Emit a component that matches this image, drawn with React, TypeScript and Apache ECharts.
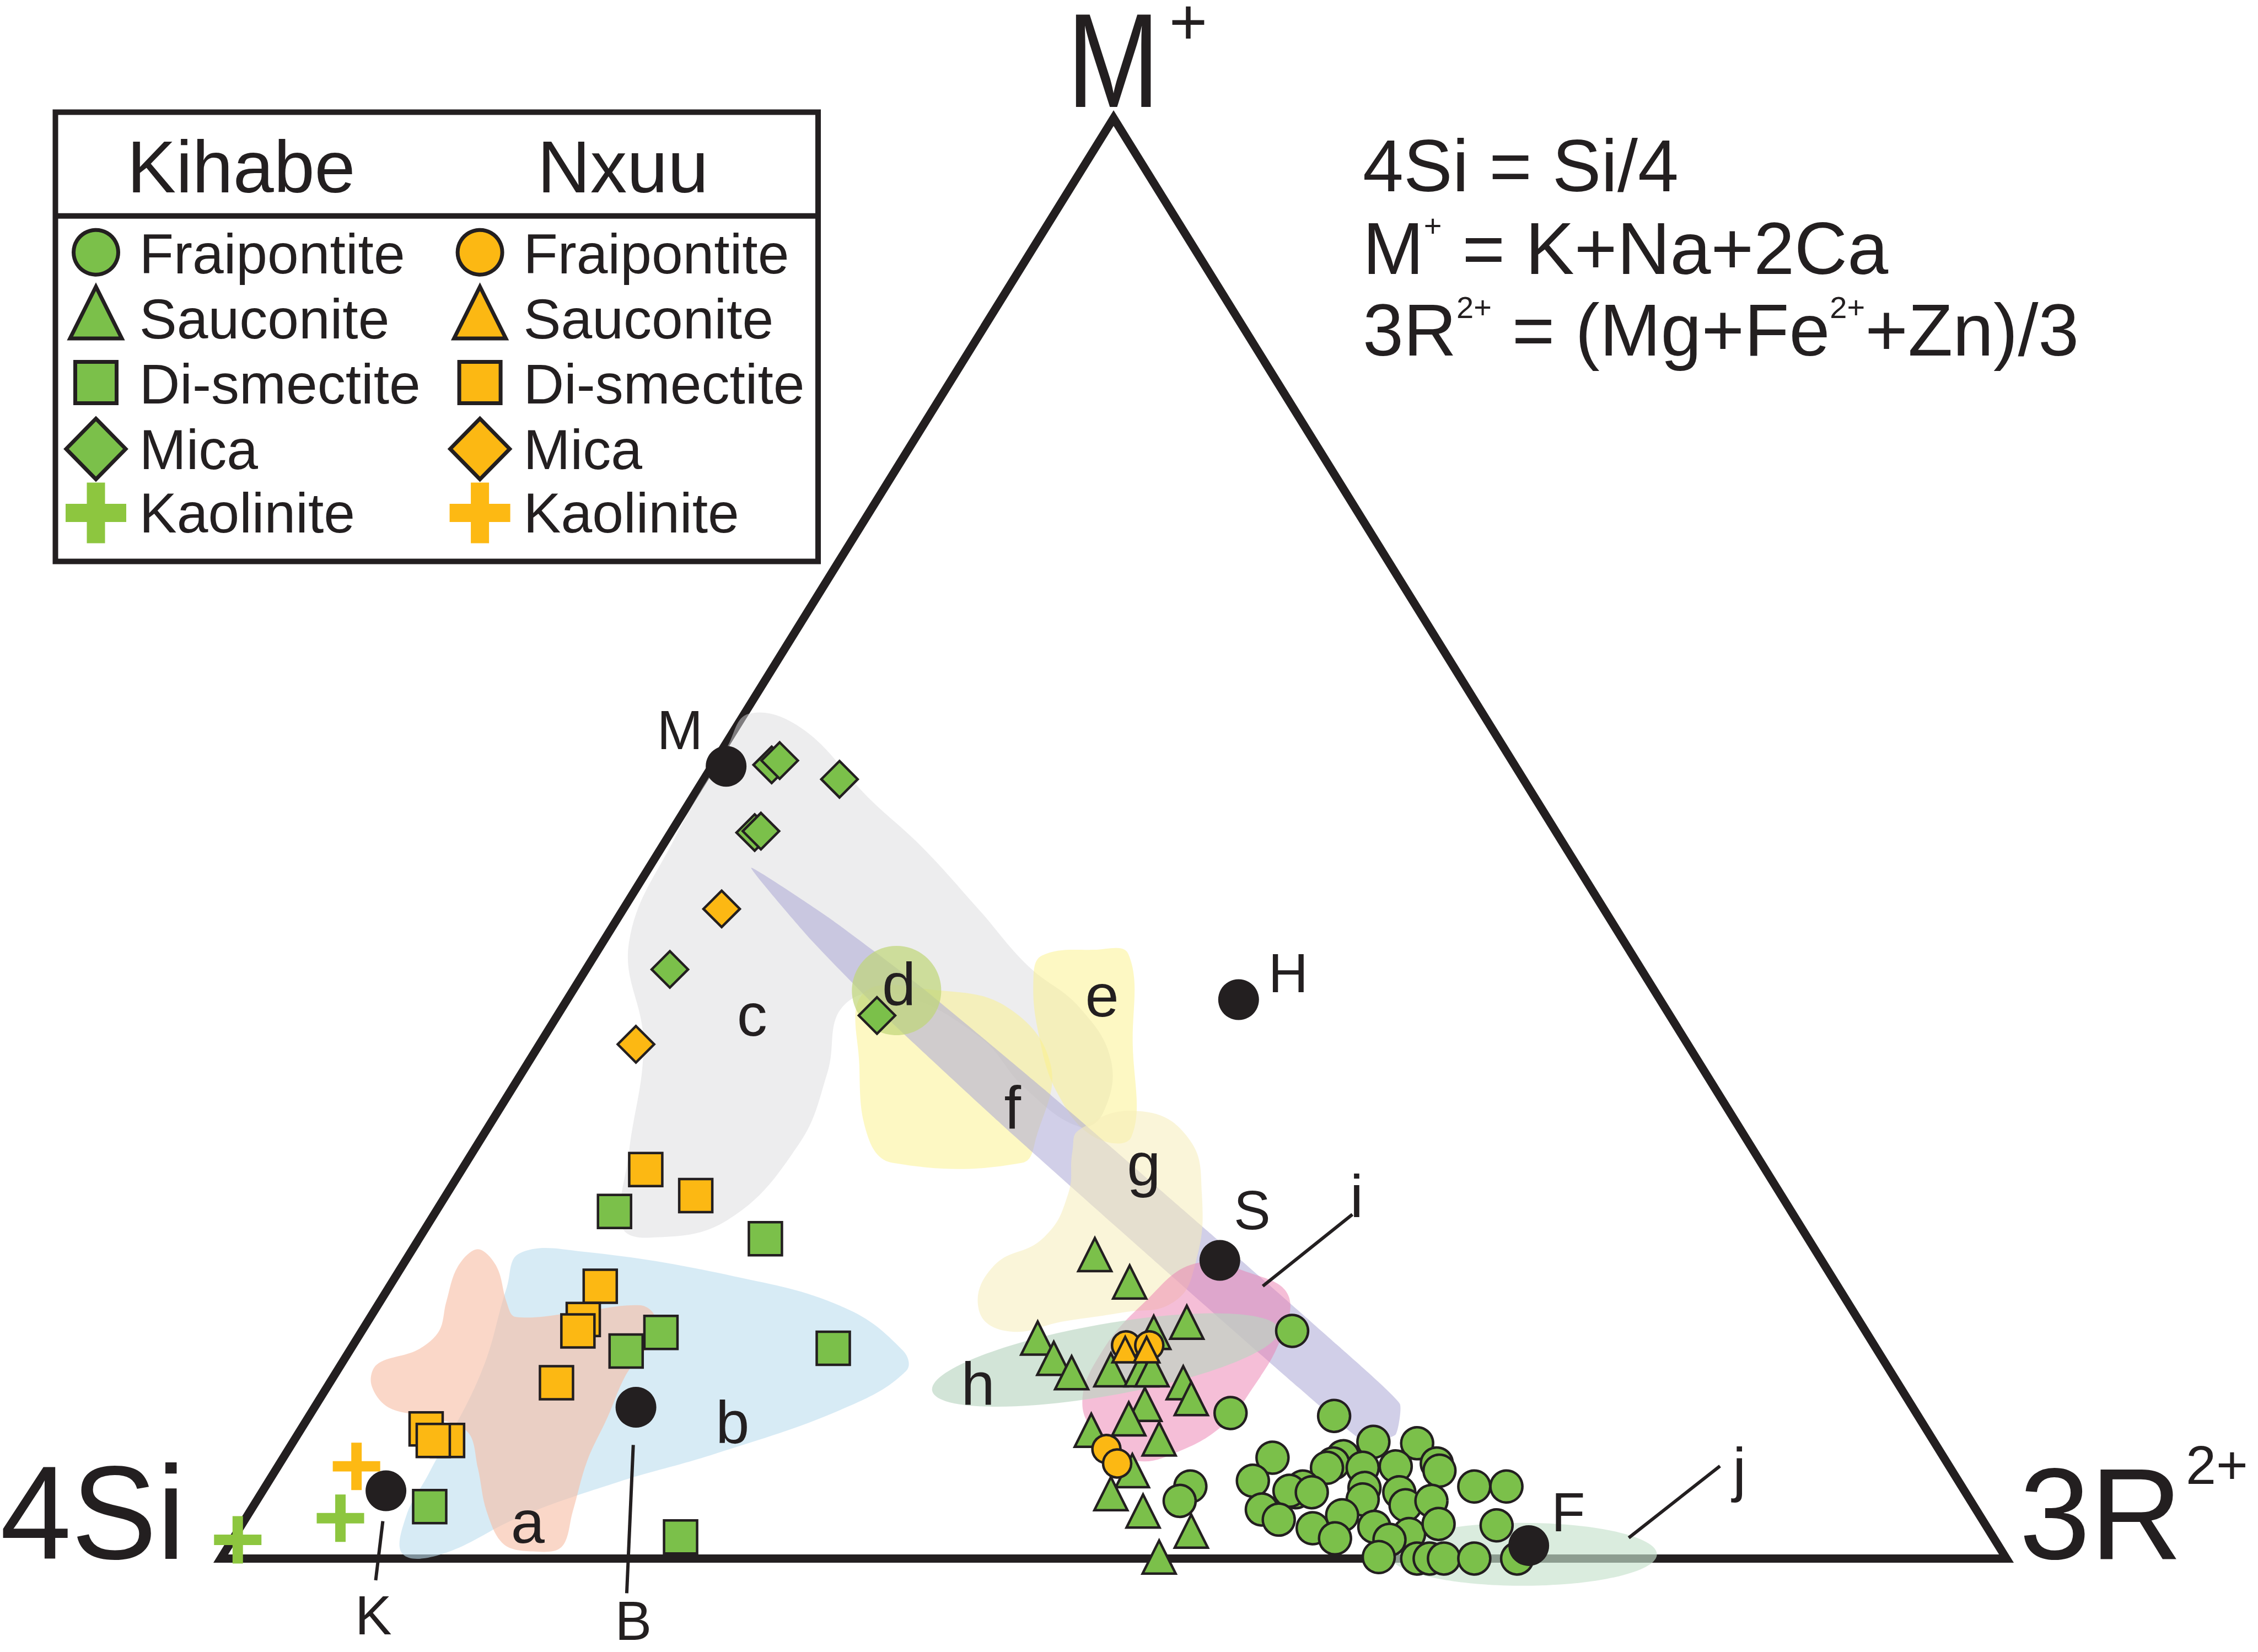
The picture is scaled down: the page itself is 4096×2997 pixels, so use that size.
import React, { useEffect, useRef } from "react";
import * as echarts from "echarts";

// Ternary positions: [M+ %, 3R2+ %]  (4Si = 100 - M+ - 3R2+)
type TP = [number, number];

const kihabeFraipontite: TP[] = [
  [10.1, 51.5], [5.0, 51.8], [4.0, 51.7], [15.8, 52.1], [9.9, 57.4], [8.1, 60.5],
  [8.0, 63.0], [7.0, 55.4], [5.4, 55.1], [7.1, 59.3], [6.6, 59.0], [6.3, 58.8],
  [6.4, 62.6], [6.6, 64.8], [6.1, 65.2], [6.3, 60.8], [4.6, 57.9], [5.0, 58.1],
  [4.7, 57.5], [4.9, 61.6], [4.6, 63.7], [4.1, 61.9], [3.7, 64.5], [4.0, 65.8],
  [5.0, 67.7], [5.0, 69.5], [3.4, 56.6], [2.7, 57.9], [2.1, 60.1], [3.0, 61.3],
  [2.2, 63.5], [1.4, 61.7], [1.7, 65.7], [1.3, 64.8], [2.4, 67.0], [2.3, 70.3],
  [0.1, 64.8], [0.0, 67.0], [0.0, 67.7], [0.0, 68.5], [0.0, 70.2], [0.0, 72.6],
  [4.6, 58.8],
];
const kihabeSauconite: TP[] = [
  [21.1, 38.4], [19.2, 41.3], [15.3, 38.1], [13.9, 39.7], [12.9, 41.2], [13.1, 43.3],
  [15.7, 44.4], [16.4, 45.9], [13.1, 45.0], [13.1, 45.6], [12.2, 47.8], [11.1, 48.8],
  [10.7, 46.4], [9.7, 46.0], [8.9, 44.3], [8.3, 48.4], [6.1, 48.0], [4.5, 47.6],
  [3.3, 50.0], [1.9, 53.4], [0.1, 52.5],
];
const kihabeDiSmectite: TP[] = [
  [24.1, 10.0], [22.2, 19.4], [15.7, 16.8], [14.4, 15.5], [14.6, 27.0], [3.6, 9.9], [1.5, 25.0],
];
const kihabeMica: TP[] = [
  [55.1, 3.3], [55.4, 3.6], [54.1, 7.6], [50.4, 4.7], [50.5, 5.0], [40.9, 4.7], [37.7, 17.9],
];
const kihabeKaolinite: TP[] = [[2.8, 5.3], [1.3, 0.3]];

const nxuuFraipontite: TP[] = [[14.8, 43.3], [14.8, 44.6], [7.6, 45.8], [6.6, 46.9]];
const nxuuSauconite: TP[] = [[14.5, 43.4], [14.5, 44.6]];
const nxuuDiSmectite: TP[] = [
  [27.0, 10.3], [25.2, 14.0], [18.9, 11.8], [16.6, 12.0], [15.8, 12.1], [12.2, 12.7],
  [9.0, 7.0], [8.2, 8.6], [8.2, 7.8],
];
const nxuuMica: TP[] = [[45.1, 5.5], [35.7, 5.4]];
const nxuuKaolinite: TP[] = [[6.4, 4.4]];

// reference compositions (black dots)
const referenceNames = ["M", "H", "S", "F", "K", "B"];
const referencePoints: TP[] = [[55.0, 0.8], [38.8, 37.6], [20.7, 45.6], [0.9, 72.8], [4.7, 6.9], [10.5, 18.0]];
const referenceLabelPos: TP[] = [[57.55, -3.06], [40.66, 39.45], [24.2, 45.66], [3.22, 73.85], [-3.91, 10.5], [-4.3, 25.25]];

// field letters
const fieldLetters = ["a", "b", "c", "d", "e", "f", "g", "h", "i", "j"];
const fieldLetterPos: TP[] = [
  [2.55, 15.92], [9.5, 23.91], [37.77, 10.87], [39.91, 18.02], [39.12, 29.79],
  [31.33, 28.68], [27.41, 37.99], [12.18, 36.32], [25.17, 51.03], [6.25, 81.92],
];
// leader lines (K, B, i, j)
const leaderLines: TP[][] = [
  [[2.59, 7.78], [-1.51, 9.43]],
  [[7.88, 19.16], [-2.41, 23.94]],
  [[23.89, 51.43], [18.91, 48.9]],
  [[6.42, 80.75], [1.44, 78.13]],
];

// composition fields (outlines in ternary coordinates)
const fieldC: TP[] = [
  [58.64, 0.23], [57.64, 3.71], [52.85, 9.82], [49.45, 14.5], [45.05, 19.93], [41.16, 24.61],
  [38.26, 28.96], [34.56, 32.58], [30.87, 33.95], [29.97, 33.11], [32.66, 28.7], [36.26, 24.32],
  [39.26, 17.98], [38.26, 15.66], [33.76, 17.1], [28.77, 17.99], [23.47, 16.61], [22.27, 12.78],
  [23.07, 10.93], [28.27, 8.73], [35.76, 5.79], [42.76, 1.48], [50.25, 0.4], [56.24, 0.2],
];
const fieldB: TP[] = [
  [21.19, 6.14], [21.29, 9.72], [19.59, 18.95], [17.41, 26.23], [14.43, 30.99], [13.03, 31.87],
  [10.44, 29.71], [7.26, 24.02], [5.29, 19.55], [2.89, 15.29], [0.3, 12.22], [0.3, 10.04],
  [2.89, 8.92], [5.89, 8.7], [12.83, 8.14], [18.8, 6.61],
];
const fieldA: TP[] = [
  [21.47, 3.66], [20.27, 5.31], [17.78, 7.12], [16.78, 8.1], [17.08, 11.34], [17.58, 14.71],
  [16.78, 15.92], [14.78, 16.52], [12.78, 16.31], [9.78, 16.76], [6.78, 17.13], [3.29, 18.07],
  [0.79, 18.68], [0.49, 17.21], [0.99, 15.35], [3.29, 13.24], [6.29, 11.25], [8.78, 9.44],
  [9.78, 6.93], [10.48, 4.16], [12.08, 2.39], [13.48, 2.01], [14.48, 3.77], [15.78, 4.33],
  [17.78, 3.73], [20.27, 3.14],
];
const fieldYellowLeft: TP[] = [
  [39.26, 16.37], [39.46, 20.3], [38.26, 24.93], [34.26, 29.35], [29.27, 31.04], [27.47, 31.14],
  [27.47, 23.88], [29.27, 21.61], [34.26, 18.63],
];
const fieldE: TP[] = [
  [41.86, 25.06], [42.26, 27.77], [41.96, 29.85], [35.76, 33.19], [29.27, 36.36], [29.27, 34.27],
  [32.26, 30.75], [36.26, 27.7], [40.26, 25.38],
];
const fieldF: TP[] = [
  [47.95, 5.73], [44.44, 11.89], [39.62, 19.47], [32.59, 29.8], [22.77, 43.85], [14.86, 55.06],
  [10.75, 60.65], [8.61, 61.49], [8.05, 60.08], [11.86, 54.44], [19.77, 43.22], [29.74, 29.21],
  [37.22, 18.96], [42.95, 11.58],
];
const fieldG: TP[] = [
  [29.77, 33.2], [31.07, 35.78], [29.27, 39.5], [25.27, 42.31], [20.27, 44.4], [17.78, 44.44],
  [17.08, 41.97], [16.48, 39.04], [15.78, 36.17], [17.28, 33.81], [20.27, 33.12], [22.27, 34.94],
  [25.27, 34.81], [28.27, 33.56],
];
const fieldI: TP[] = [
  [20.47, 44.3], [19.77, 47.88], [18.28, 50.64], [15.28, 51.73], [11.78, 51.87], [9.28, 51.51],
  [7.48, 49.99], [6.78, 47.92], [8.28, 45.16], [10.78, 42.86], [14.28, 42.16], [17.78, 42.83],
];
const fieldDCenter: TP = [39.43, 18.13];
const fieldHCenter: TP = [13.78, 42.65];
const fieldJCenter: TP = [0.29, 72.78];

const triangleVertices: TP[] = [[0, 0], [0, 100], [100, 0]];

const legendGroups = ["Kihabe", "Nxuu"];
const legendMinerals = ["Fraipontite", "Sauconite", "Di-smectite", "Mica", "Kaolinite"];

// formula lines: [text, isSuperscript]
const formulaLines: [string, boolean][][] = [
  [["4Si = Si/4", false]],
  [["M", false], ["+", true], [" = K+Na+2Ca", false]],
  [["3R", false], ["2+", true], [" = (Mg+Fe", false], ["2+", true], ["+Zn)/3", false]],
];

// ---------------- styling / layout ----------------
const W = 4096;
const H = 2997;
const GRID = { left: 400.5, top: 214.3, width: 3239.1, height: 2613.1 };
const FONT = '"Liberation Sans", Arial, Helvetica, sans-serif';
const INK = "#231F20";
const GREEN = "#7BC04A";
const ORANGE = "#FCB813";
const GREEN_CROSS = "#8DC63F";
const ORANGE_CROSS = "#FDB913";
const CROSS_PATH = "path://M39,0L61,0L61,39L100,39L100,61L61,61L61,100L39,100L39,61L0,61L0,39L39,39Z";

const toXY = (p: TP): [number, number] => [p[1] + p[0] / 2, p[0]];
const midY = (baseline: number, size: number) => baseline - 0.3465 * size;

type FieldSpec =
  | { kind: "poly"; pts: TP[]; fill: string; smooth: number }
  | { kind: "ellipse"; c: TP; rx: number; ry: number; rot: number; fill: string };

const FIELDS: FieldSpec[] = [
  { kind: "poly", pts: fieldC, fill: "rgba(219,219,222,0.5)", smooth: 0.4 },
  { kind: "poly", pts: fieldB, fill: "rgba(188,222,238,0.6)", smooth: 0.4 },
  { kind: "poly", pts: fieldA, fill: "rgba(247,188,163,0.6)", smooth: 0.35 },
  { kind: "poly", pts: fieldYellowLeft, fill: "rgba(251,241,135,0.5)", smooth: 0.4 },
  { kind: "poly", pts: fieldE, fill: "rgba(251,241,135,0.5)", smooth: 0.4 },
  { kind: "poly", pts: fieldF, fill: "rgba(171,168,214,0.55)", smooth: 0.15 },
  { kind: "ellipse", c: fieldDCenter, rx: 81, ry: 81, rot: 0, fill: "rgba(191,214,119,0.7)" },
  { kind: "poly", pts: fieldG, fill: "rgba(245,237,185,0.55)", smooth: 0.45 },
  { kind: "poly", pts: fieldI, fill: "rgba(235,125,175,0.5)", smooth: 0.4 },
  { kind: "ellipse", c: fieldHCenter, rx: 319, ry: 65, rot: 10, fill: "rgba(186,214,194,0.65)" },
  { kind: "ellipse", c: fieldJCenter, rx: 243, ry: 57, rot: 0, fill: "rgba(198,226,205,0.65)" },
];

function textEl(text: string, x: number, baseline: number, size: number, align: string, extra: any = {}) {
  return {
    type: "text",
    x,
    y: midY(baseline, size),
    ...extra,
    style: {
      text,
      fill: INK,
      fontSize: size,
      fontFamily: FONT,
      textAlign: align,
      textVerticalAlign: "middle",
      align,
      verticalAlign: "middle",
    },
  };
}

function scatter(name: string, data: TP[], symbol: string, size: number, color: string, border: boolean) {
  return {
    type: "scatter",
    name,
    data: data.map(toXY),
    symbol,
    symbolSize: size,
    clip: false,
    silent: true,
    itemStyle: { color, borderColor: INK, borderWidth: border ? 4.5 : 0, opacity: 1 },
    emphasis: { disabled: true },
  };
}

function legendSymbol(row: number, cx: number, cy: number, fill: string, crossFill: string): any {
  const st = { fill, stroke: INK, lineWidth: 7 };
  if (row === 0) return { type: "circle", shape: { cx, cy, r: 40.5 }, style: st };
  if (row === 1)
    return { type: "polygon", shape: { points: [[cx, cy - 47], [cx + 47, cy + 47], [cx - 47, cy + 47]] }, style: { ...st, lineJoin: "miter" } };
  if (row === 2) return { type: "rect", shape: { x: cx - 37.5, y: cy - 37.5, width: 75, height: 75 }, style: st };
  if (row === 3)
    return { type: "polygon", shape: { points: [[cx, cy - 55], [cx + 54, cy], [cx, cy + 55], [cx - 54, cy]] }, style: st };
  const s = 55, t = 16.5;
  return {
    type: "polygon",
    shape: {
      points: [
        [cx - t, cy - s], [cx + t, cy - s], [cx + t, cy - t], [cx + s, cy - t], [cx + s, cy + t], [cx + t, cy + t],
        [cx + t, cy + s], [cx - t, cy + s], [cx - t, cy + t], [cx - s, cy + t], [cx - s, cy - t], [cx - t, cy - t],
      ],
    },
    style: { fill: crossFill },
  };
}

function buildGraphic(): any[] {
  const els: any[] = [];
  // legend
  els.push({ type: "rect", shape: { x: 100.5, y: 203.5, width: 1383.5, height: 815 }, style: { fill: "#fff", stroke: INK, lineWidth: 10 } });
  els.push({ type: "line", shape: { x1: 100.5, y1: 391.7, x2: 1484, y2: 391.7 }, style: { stroke: INK, lineWidth: 10 } });
  const headerCx = [437.5, 1130];
  legendGroups.forEach((g, i) => els.push(textEl(g, headerCx[i], 349, 133, "center")));
  const rowBaselines = [496.4, 614.6, 732.7, 851, 966.5];
  const symbolCy = [457.7, 567, 694, 814.4, 930.4];
  const symbolCx = [174, 870.6];
  const textX = [252.7, 949.5];
  const fills = [GREEN, ORANGE];
  const crossFills = [GREEN_CROSS, ORANGE_CROSS];
  for (let col = 0; col < 2; col++) {
    legendMinerals.forEach((m, row) => {
      els.push(legendSymbol(row, symbolCx[col], symbolCy[row], fills[col], crossFills[col]));
      els.push(textEl(m, textX[col], rowBaselines[row], 102, "left"));
    });
  }
  // vertex labels
  els.push(textEl("M", 2019.5, 194, 244, "center", { scaleX: 0.83 }));
  els.push(textEl("+", 2155.5, 38 + 0.3465 * 119, 119, "center"));
  els.push(textEl("4Si", 336, 2827.3, 242, "right", { scaleX: 0.96 }));
  els.push(textEl("3R", 3663, 2827.8, 236, "left", { scaleX: 0.98 }));
  els.push(textEl("2+", 3965, 2692, 99, "left"));

  // formulas
  const canvas = document.createElement("canvas");
  const ctx = canvas.getContext("2d") as CanvasRenderingContext2D;
  const measure = (t: string, size: number) => {
    ctx.font = `${size}px "Liberation Sans"`;
    return ctx.measureText(t).width;
  };
  const baselines = [346.8, 496.6, 645.4];
  const MAIN = 133;
  const SUP = 56;
  const RAISE = 68;
  formulaLines.forEach((pieces, li) => {
    let x = 2472;
    pieces.forEach(([t, sup]) => {
      const size = sup ? SUP : MAIN;
      const lead = t.length - t.replace(/^\s+/, "").length;
      if (lead > 0) x += measure(t.slice(0, lead), size);
      const body = t.trim();
      els.push(textEl(body, x, baselines[li] - (sup ? RAISE : 0), size, "left"));
      x += measure(body, size);
      const trail = t.length - t.replace(/\s+$/, "").length;
      if (trail > 0) x += measure(t.slice(t.length - trail), size);
    });
  });
  return els;
}

function buildOption(): any {
  const series: any[] = [];
  // triangle frame
  series.push({
    type: "custom",
    coordinateSystem: "cartesian2d",
    clip: false,
    silent: true,
    data: [[50, 50]],
    renderItem: (_p: any, api: any) => ({
      type: "polygon",
      shape: { points: triangleVertices.map((v) => api.coord(toXY(v))) },
      style: { fill: "none", stroke: INK, lineWidth: 15, lineJoin: "miter", miterLimit: 10 },
    }),
  });
  // fields
  series.push({
    type: "custom",
    coordinateSystem: "cartesian2d",
    clip: false,
    silent: true,
    data: FIELDS.map(() => [50, 50]),
    renderItem: (params: any, api: any) => {
      const f = FIELDS[params.dataIndex];
      if (f.kind === "poly") {
        return {
          type: "polygon",
          shape: { points: f.pts.map((p) => api.coord(toXY(p))), smooth: f.smooth },
          style: { fill: f.fill },
        };
      }
      const c = api.coord(toXY(f.c));
      return {
        type: "ellipse",
        x: c[0],
        y: c[1],
        rotation: (f.rot * Math.PI) / 180,
        shape: { cx: 0, cy: 0, rx: f.rx, ry: f.ry },
        style: { fill: f.fill },
      };
    },
  });
  // leader lines
  series.push({
    type: "custom",
    coordinateSystem: "cartesian2d",
    clip: false,
    silent: true,
    data: leaderLines.map(() => [50, 50]),
    renderItem: (params: any, api: any) => {
      const seg = leaderLines[params.dataIndex];
      const a = api.coord(toXY(seg[0]));
      const b = api.coord(toXY(seg[1]));
      return { type: "line", shape: { x1: a[0], y1: a[1], x2: b[0], y2: b[1] }, style: { stroke: INK, lineWidth: 6 } };
    },
  });
  // points
  series.push(scatter("Kihabe Kaolinite", kihabeKaolinite, CROSS_PATH, 86, GREEN_CROSS, false));
  series.push(scatter("Nxuu Kaolinite", nxuuKaolinite, CROSS_PATH, 86, ORANGE_CROSS, false));
  series.push(scatter("Kihabe Di-smectite", kihabeDiSmectite, "rect", 60, GREEN, true));
  series.push(scatter("Nxuu Di-smectite", nxuuDiSmectite, "rect", 60, ORANGE, true));
  series.push(scatter("Kihabe Mica", kihabeMica, "diamond", 66, GREEN, true));
  series.push(scatter("Nxuu Mica", nxuuMica, "diamond", 66, ORANGE, true));
  series.push(scatter("Kihabe Sauconite", kihabeSauconite, "triangle", 60, GREEN, true));
  series.push(scatter("Kihabe Fraipontite", kihabeFraipontite, "circle", 58, GREEN, true));
  series.push(scatter("Nxuu Fraipontite", nxuuFraipontite, "circle", 51, ORANGE, true));
  series.push(scatter("Nxuu Sauconite", nxuuSauconite, "triangle", 46, ORANGE, true));
  series.push(scatter("Reference", referencePoints, "circle", 74, INK, false));
  // labels
  const labels = [
    ...referenceNames.map((n, i) => ({ t: n, p: referenceLabelPos[i], size: 100 })),
    ...fieldLetters.map((n, i) => ({ t: n, p: fieldLetterPos[i], size: 110 })),
  ];
  series.push({
    type: "custom",
    coordinateSystem: "cartesian2d",
    clip: false,
    silent: true,
    data: labels.map(() => [50, 50]),
    renderItem: (params: any, api: any) => {
      const l = labels[params.dataIndex];
      const c = api.coord(toXY(l.p));
      return {
        type: "text",
        x: c[0],
        y: c[1],
        style: {
          text: l.t,
          fill: INK,
          fontSize: l.size,
          fontFamily: FONT,
          textAlign: "center",
          textVerticalAlign: "middle",
          align: "center",
          verticalAlign: "middle",
        },
      };
    },
  });

  return {
    animation: false,
    backgroundColor: "#ffffff",
    grid: { left: GRID.left, top: GRID.top, width: GRID.width, height: GRID.height, show: false },
    xAxis: { type: "value", min: 0, max: 100, show: false },
    yAxis: { type: "value", min: 0, max: 100, show: false },
    series,
    graphic: buildGraphic(),
  };
}

export default function App() {
  const ref = useRef<HTMLDivElement>(null);
  useEffect(() => {
    if (!ref.current) return;
    const chart = echarts.init(ref.current, undefined, { renderer: "svg", width: W, height: H });
    chart.setOption(buildOption());
    return () => chart.dispose();
  }, []);
  return (
    <div
      ref={ref}
      style={{ position: "fixed", left: 0, top: 0, width: W, height: H, background: "#fff" }}
    />
  );
}
